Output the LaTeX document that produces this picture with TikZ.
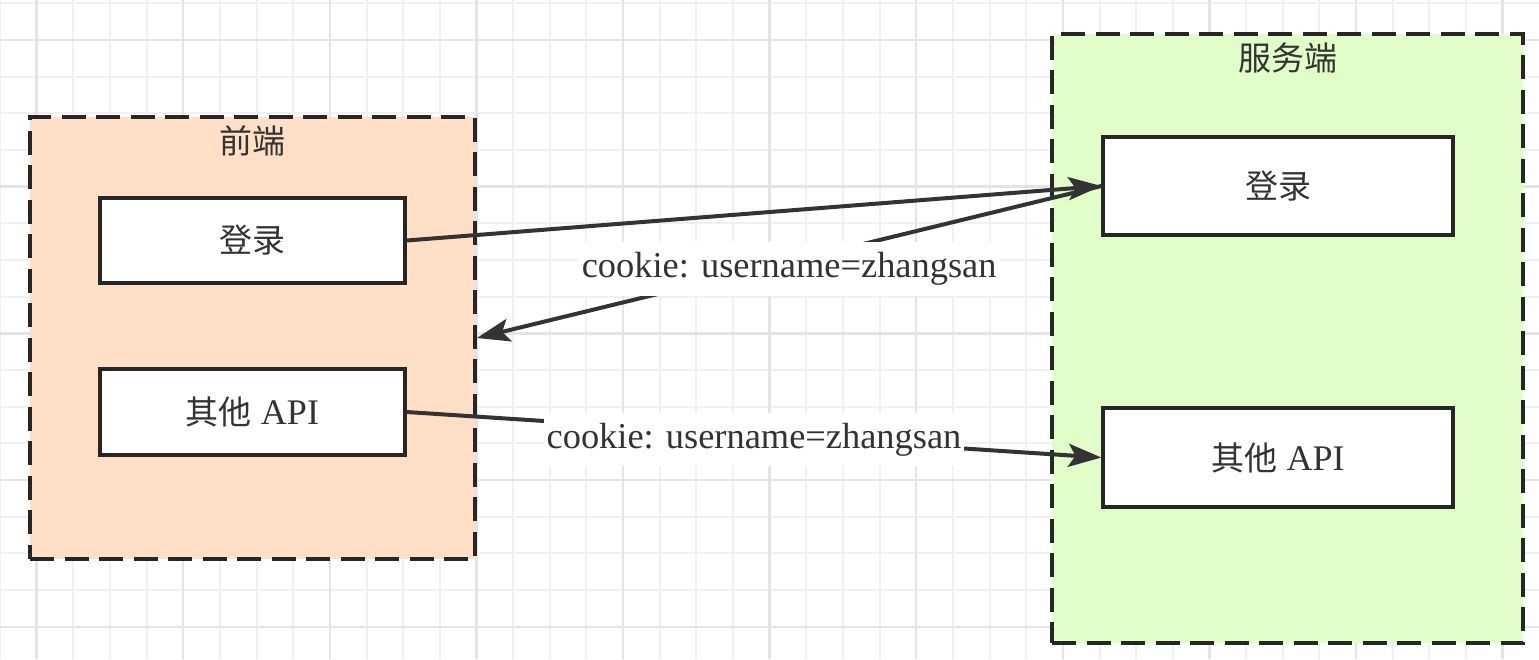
\documentclass[tikz,border=0pt]{standalone}
\usepackage{fontspec}
\setmainfont{Liberation Serif}
\newfontfamily\cjk{Noto Sans CJK SC}
\usetikzlibrary{arrows.meta}
\definecolor{peach}{HTML}{FFE0C6}
\definecolor{mint}{HTML}{E1FDC8}
\definecolor{ink}{HTML}{262626}
\definecolor{txt}{HTML}{333333}
\definecolor{gminor}{HTML}{F0F0F2}
\definecolor{gmajor}{HTML}{E4E4E7}
\newcommand\zh[1]{{\cjk\fontsize{33pt}{40pt}\selectfont #1}}
\begin{document}
\begin{tikzpicture}[x=1pt,y=-1pt,
  container/.style={draw=ink, line width=3.8pt, dash pattern=on 24pt off 10.5pt,
    rectangle, inner sep=0pt},
  titletext/.style={text=txt, inner sep=0pt},
  box/.style={draw=ink, fill=white, line width=3.2pt, rectangle, inner sep=0pt,
    text=txt, font=\fontsize{36pt}{40pt}\selectfont},
  conn/.style={draw=txt, line width=4pt,
    -{Stealth[length=33pt, width=23pt, inset=7pt]}},
  lbl/.style={fill=white, text=txt, inner xsep=3pt, inner ysep=10pt,
    font=\fontsize{36.4pt}{40pt}\selectfont},
  gridminor/.style={draw=gminor, line width=2pt},
  gridmajor/.style={draw=gmajor, line width=2.4pt}
]
\useasboundingbox (0,0) rectangle (1539,659);
\fill[white] (0,0) rectangle (1539,659);
% grid
\foreach \k in {0,...,41} {\draw[gridminor] (\k*36.65,0) -- (\k*36.65,659);}
\foreach \k in {0,...,17} {\draw[gridminor] (0,3.3+\k*36.67) -- (1539,3.3+\k*36.67);}
\foreach \k in {1,5,...,41} {\draw[gridmajor] (\k*36.65,0) -- (\k*36.65,659);}
\foreach \k in {1,5,...,17} {\draw[gridmajor] (0,3.3+\k*36.67) -- (1539,3.3+\k*36.67);}

% containers
\node[container, fill=peach, minimum width=445pt, minimum height=442pt] (fe) at (252.5,338) {};
\node[titletext] (fetitle) at (252.5,141) {\zh{前端}};
\node[container, fill=mint, minimum width=471pt, minimum height=609pt] (sv) at (1287.5,338.5) {};
\node[titletext] (svtitle) at (1288,57.5) {\zh{服务端}};

% inner boxes
\node[box, minimum width=305pt, minimum height=85pt] (felogin) at (252.5,240.5) {\zh{登录}};
\node[box, minimum width=305pt, minimum height=86pt] (feapi) at (252.5,412) {\zh{其他} API};
\node[box, minimum width=350pt, minimum height=98pt] (svlogin) at (1278,186) {\zh{登录}};
\node[box, minimum width=350pt, minimum height=99pt] (svapi) at (1278,457.5) {\zh{其他} API};

% connectors
\draw[conn] (felogin.east) -- (svlogin.west);
\draw[conn] (svlogin.west) -- node[lbl, midway, yshift=-7pt] (lbl1) {cookie: username=zhangsan} (fe.east);
\draw[conn] (feapi.east) -- node[lbl, midway, yshift=-5pt] (lbl2) {cookie: username=zhangsan} (svapi.west);
\end{tikzpicture}
\end{document}
